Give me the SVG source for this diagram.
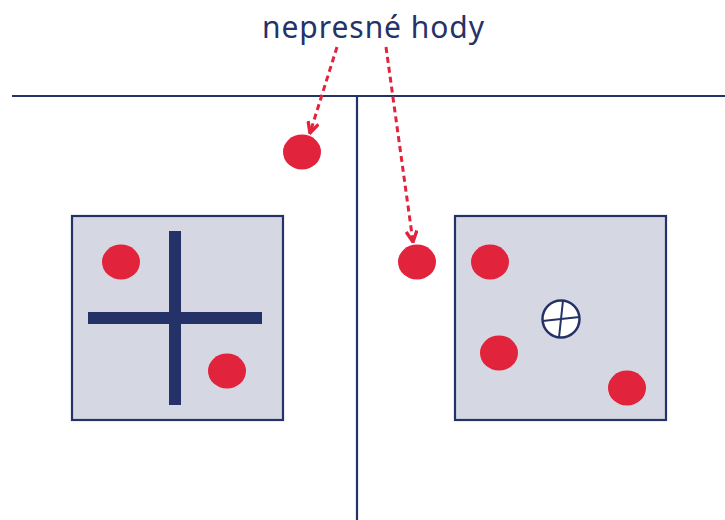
<svg xmlns="http://www.w3.org/2000/svg" width="725" height="520" viewBox="0 0 725 520">
<style>
.ln{stroke:#253268;stroke-width:2.2;fill:none}
.box{fill:#d5d8e3;stroke:#253268;stroke-width:2.2}
.dot{fill:#e2233c}
.bar{fill:#253268}
.arr{stroke:#e2233c;stroke-width:3;fill:none;stroke-dasharray:6 4}
.lbl{font-family:"Noto Sans",sans-serif;font-size:30px;fill:#253268}
</style>
<defs>
<marker id="ah" viewBox="0 0 10 10" refX="9" refY="5" markerWidth="4.5" markerHeight="4.5" orient="auto" markerUnits="strokeWidth">
<path d="M1,1 L9,5 L1,9" fill="none" stroke="#e2233c" stroke-width="2.5"/>
</marker>
</defs>
<rect width="725" height="520" fill="#fff"/>
<g id="axes">
<line class="ln" x1="12" y1="96" x2="725" y2="96"/>
<line class="ln" x1="357" y1="96" x2="357" y2="520"/>
</g>
<g id="label">
<text class="lbl" x="262" y="38" textLength="222" lengthAdjust="spacing">nepresné hody</text>
</g>
<g id="left-box">
<rect class="box" x="72" y="216" width="211" height="204"/>
<rect class="bar" x="169" y="231" width="12" height="174"/>
<rect class="bar" x="88" y="312" width="174" height="12"/>
<ellipse class="dot" cx="121" cy="262" rx="19" ry="17.5"/>
<ellipse class="dot" cx="227" cy="371" rx="19" ry="17.5"/>
</g>
<g id="right-box">
<rect class="box" x="455" y="216" width="211" height="204"/>
<ellipse class="dot" cx="490" cy="262" rx="19" ry="17.5"/>
<ellipse class="dot" cx="499" cy="353" rx="19" ry="17.5"/>
<ellipse class="dot" cx="627" cy="388" rx="19" ry="17.5"/>
<g id="target">
<circle cx="561" cy="319" r="18.5" fill="#fff" stroke="#253268" stroke-width="2.5"/>
<line x1="563" y1="300.5" x2="559" y2="337.5" stroke="#253268" stroke-width="2"/>
<line x1="542.5" y1="321" x2="579.5" y2="317" stroke="#253268" stroke-width="2"/>
</g>
</g>
<g id="outside-dots">
<ellipse class="dot" cx="302" cy="152" rx="19" ry="17.5"/>
<ellipse class="dot" cx="417" cy="262" rx="19" ry="17.5"/>
</g>
<g id="connectors">
<line class="arr" x1="337" y1="47" x2="310" y2="133" marker-end="url(#ah)"/>
<line class="arr" x1="386" y1="47" x2="413" y2="242" marker-end="url(#ah)"/>
</g>
</svg>
